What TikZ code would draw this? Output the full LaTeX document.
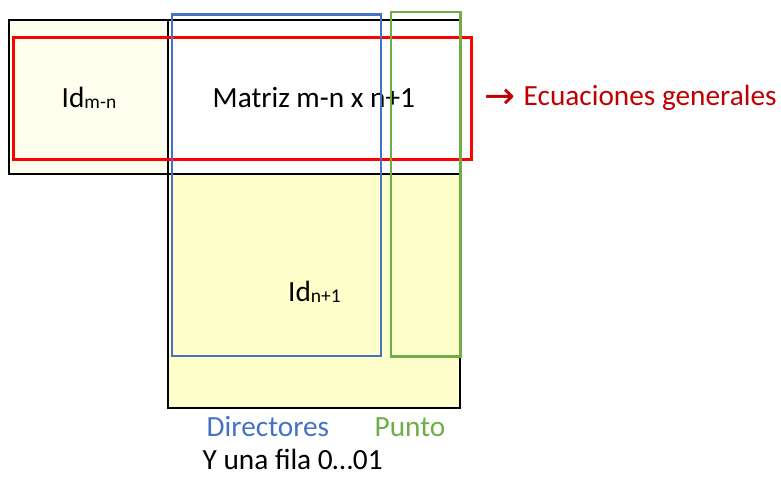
\documentclass[tikz,border=0pt]{standalone}
\usepackage{fontspec}
\setmainfont{Carlito}
\newfontfamily\arrowfont{DejaVu Sans}
\definecolor{creamfill}{HTML}{FFFFF0}
\definecolor{yellowfill}{HTML}{FFFFCC}
\definecolor{redline}{HTML}{FF0000}
\definecolor{blueline}{HTML}{4472C4}
\definecolor{greenline}{HTML}{70AD47}
\definecolor{darkred}{HTML}{C00000}
\begin{document}
\begin{tikzpicture}[x=1pt,y=-1pt,
  blackbox/.style={draw=black,line width=2pt},
  lbl/.style={inner sep=0pt,anchor=base west,font=\fontsize{29.3}{33}\selectfont}]
\newcommand{\subsz}[1]{\raisebox{-1.8pt}{\fontsize{19.5}{20}\selectfont #1}}
\useasboundingbox (0,0) rectangle (781,477);
% fills
\fill[creamfill] (9,20) rectangle (168,174);
\fill[white] (168,20) rectangle (460,174);
\fill[yellowfill] (168,174) rectangle (460,408);
% black boxes
\draw[blackbox] (9,20) rectangle (168,174);
\draw[blackbox] (168,20) rectangle (460,174);
\draw[blackbox] (168,174) rectangle (460,408);
% texts
\node[lbl] (idmn) at (61.5,107) {Id\subsz{m-n}};
\node[lbl] (matriz) at (212.5,107) {Matriz m-n x n+1};
\node[lbl] (idn1) at (288,301) {Id\subsz{n+1}};
\node[lbl,text=darkred] (arrow) at (484,105) {\raisebox{-3.5pt}{\arrowfont\fontsize{37}{40}\selectfont →}};
\node[lbl,text=darkred] (ecu) at (523.5,105) {Ecuaciones generales};
\node[lbl,text=blueline] (dir) at (206.5,436) {Directores};
\node[lbl,text=greenline] (punto) at (374.5,436) {Punto};
\node[lbl] (fila) at (202.5,469) {Y una fila 0…01};
% coloured frames
\draw[redline,line width=3pt] (13,37) rectangle (471,159);
\draw[blueline,line width=2.6pt] (172,14.5) rectangle (381,356);
\draw[greenline,line width=2.6pt] (391,12) rectangle (460.5,356.5);
\end{tikzpicture}
\end{document}
